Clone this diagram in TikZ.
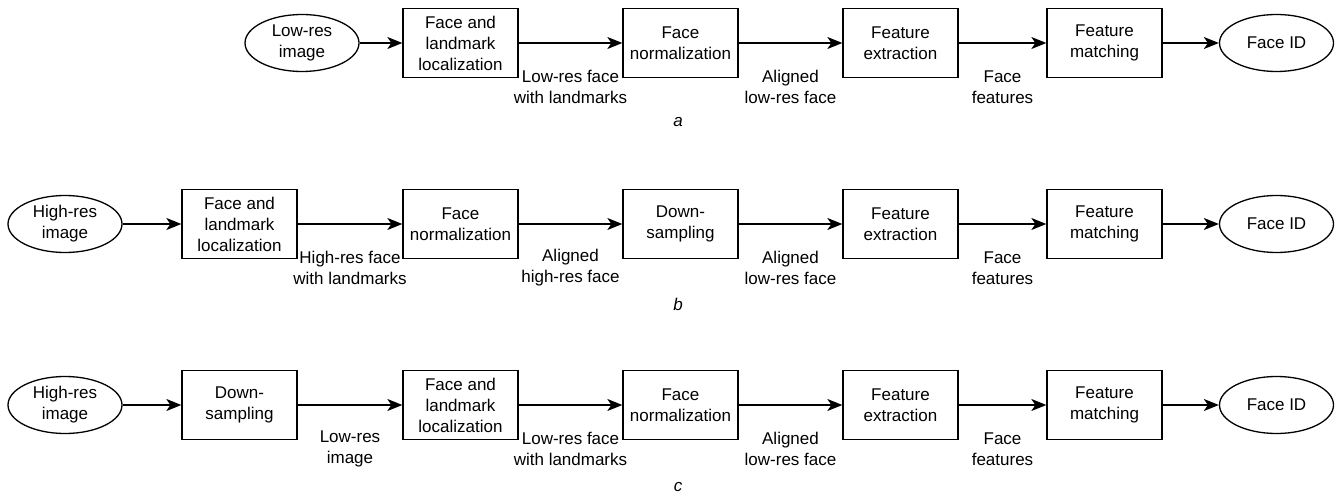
\documentclass[tikz,border=0pt]{standalone}
\usepackage{fontspec}
\setmainfont{Liberation Sans}
\usetikzlibrary{arrows.meta,shapes.geometric}
\begin{document}
\begin{tikzpicture}[x=1pt,y=-1pt,
  every node/.style={font=\fontsize{17}{21}\selectfont, inner sep=0pt},
  procbox/.style={draw, line width=1.3pt, minimum width=115pt, minimum height=69pt, align=center},
  termnode/.style={draw, ellipse, line width=1.3pt, minimum width=114pt, minimum height=57pt, align=center},
  flow/.style={line width=1.3pt, -{Stealth[length=15pt,width=12pt,inset=4pt]}},
  elabel/.style={align=center},
  caption/.style={font=\itshape\fontsize{17}{21}\selectfont}]
\useasboundingbox (0,0) rectangle (1341,497);

% Row a
\node[termnode] (a0) at (302,43) {Low-res\\image};
\node[procbox] (a1) at (460.5,43) {Face and\\landmark\\localization};
\node[procbox] (a2) at (680.5,43) {Face\\normalization};
\node[procbox] (a3) at (900.5,43) {Feature\\extraction};
\node[procbox] (a4) at (1104.5,43) {Feature\\matching};
\node[termnode] (a5) at (1276.5,43) {Face ID};
\draw[flow] (a0) -- (a1);
\draw[flow] (a1) -- node[elabel, yshift=-44pt] (la1) {Low-res face\\with landmarks} (a2);
\draw[flow] (a2) -- node[elabel, yshift=-44pt] (la2) {Aligned\\low-res face} (a3);
\draw[flow] (a3) -- node[elabel, yshift=-44pt] (la3) {Face\\features} (a4);
\draw[flow] (a4) -- (a5);
\node[caption] (capa) at (678,122) {a};

% Row b
\node[termnode] (b0) at (65,224) {High-res\\image};
\node[procbox] (b1) at (239.5,224) {Face and\\landmark\\localization};
\node[procbox] (b2) at (460.5,224) {Face\\normalization};
\node[procbox] (b3) at (680.5,224) {Down-\\sampling};
\node[procbox] (b4) at (900.5,224) {Feature\\extraction};
\node[procbox] (b5) at (1104.5,224) {Feature\\matching};
\node[termnode] (b6) at (1276.5,224) {Face ID};
\draw[flow] (b0) -- (b1);
\draw[flow] (b1) -- node[elabel, yshift=-44pt] (lb1) {High-res face\\with landmarks} (b2);
\draw[flow] (b2) -- node[elabel, yshift=-44pt] (lb2) {Aligned\\high-res face} (b3);
\draw[flow] (b3) -- node[elabel, yshift=-44pt] (lb3) {Aligned\\low-res face} (b4);
\draw[flow] (b4) -- node[elabel, yshift=-44pt] (lb4) {Face\\features} (b5);
\draw[flow] (b5) -- (b6);
\node[caption] (capb) at (678,304) {b};

% Row c
\node[termnode] (c0) at (65,405) {High-res\\image};
\node[procbox] (c1) at (239.5,405) {Down-\\sampling};
\node[procbox] (c2) at (460.5,405) {Face and\\landmark\\localization};
\node[procbox] (c3) at (680.5,405) {Face\\normalization};
\node[procbox] (c4) at (900.5,405) {Feature\\extraction};
\node[procbox] (c5) at (1104.5,405) {Feature\\matching};
\node[termnode] (c6) at (1276.5,405) {Face ID};
\draw[flow] (c0) -- (c1);
\draw[flow] (c1) -- node[elabel, yshift=-44pt] (lc1) {Low-res\\image} (c2);
\draw[flow] (c2) -- node[elabel, yshift=-44pt] (lc2) {Low-res face\\with landmarks} (c3);
\draw[flow] (c3) -- node[elabel, yshift=-44pt] (lc3) {Aligned\\low-res face} (c4);
\draw[flow] (c4) -- node[elabel, yshift=-44pt] (lc4) {Face\\features} (c5);
\draw[flow] (c5) -- (c6);
\node[caption] (capc) at (678,487) {c};
\end{tikzpicture}
\end{document}
